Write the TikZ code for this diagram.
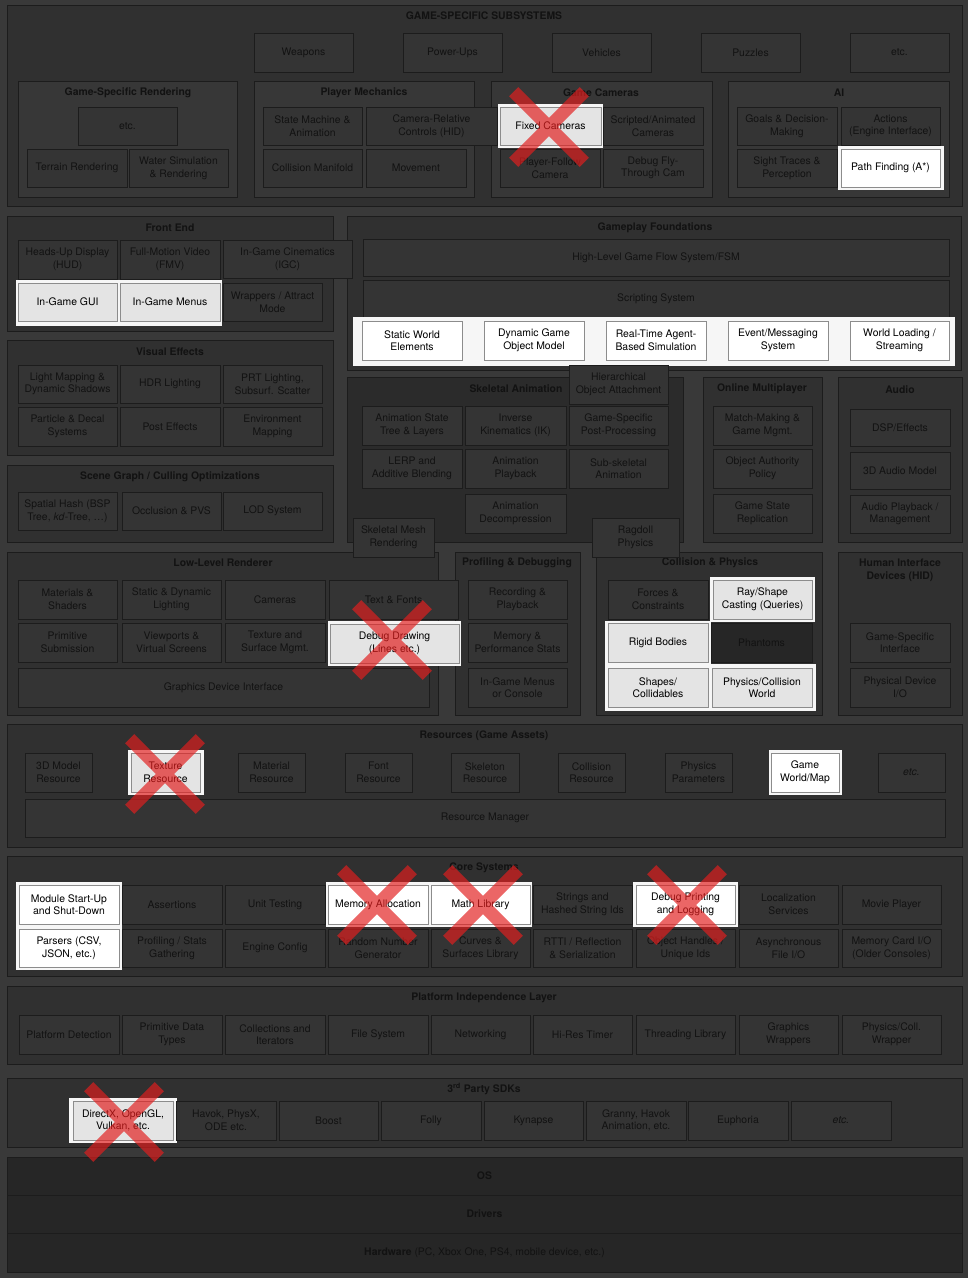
\documentclass[tikz,border=0pt]{standalone}
\usepackage{fontspec}
\setmainfont{TeX Gyre Heros}
\definecolor{pagebg}{HTML}{393939}
\definecolor{panelfill}{HTML}{303030}
\definecolor{groupfill}{HTML}{373737}
\definecolor{leaffill}{HTML}{343434}
\definecolor{skelfill}{HTML}{2B2B2B}
\definecolor{bandfill}{HTML}{262626}
\definecolor{darkfill}{HTML}{262626}
\definecolor{edge}{HTML}{1C1C1C}
\definecolor{txt}{HTML}{121212}
\definecolor{hledge}{HTML}{8C8C8C}
\definecolor{hlgrayfill}{HTML}{E4E4E4}
\definecolor{haloc}{HTML}{F6F6F6}
\definecolor{xred}{HTML}{E21E1E}

% box given by its corners (x1,y1) and (x2,y2), y pointing down
\newcommand\engbox[7][leaf]{\node[#1,minimum width={(#5-#3)*1pt},minimum height={(#6-#4)*1pt}] (#2) at ({(#3+#5)/2},{(#4+#6)/2}) {#7};}
\newcommand\grouptitle[4]{\node[ttl] (#1) at (#2,#3) {#4};}
\newcommand\glow[4]{\fill[haloc] (#1,#2) rectangle (#3,#4);}
\newcommand\strike[2]{\begin{scope}[shift={(#1,#2)},rotate=45]
  \fill[xred,fill opacity=0.68] (-50,-6.5) -- (-6.5,-6.5) -- (-6.5,-50) -- (6.5,-50) -- (6.5,-6.5) -- (50,-6.5)
    -- (50,6.5) -- (6.5,6.5) -- (6.5,50) -- (-6.5,50) -- (-6.5,6.5) -- (-50,6.5) -- cycle;
  \end{scope}}

\begin{document}
\begin{tikzpicture}[x=1pt,y=-1pt,
  every node/.style={font=\fontsize{10.4}{12.6}\selectfont, text=txt},
  leaf/.style={draw=edge, fill=leaffill, line width=0.9pt, inner sep=0pt, align=center},
  hlgray/.style={leaf, draw=hledge, fill=hlgrayfill, text=black},
  hlwhite/.style={leaf, draw=hledge, fill=white, text=black},
  darkleaf/.style={leaf, fill=darkfill},
  panel/.style={draw=edge, fill=panelfill, line width=0.9pt, inner sep=0pt},
  group/.style={panel, fill=groupfill},
  skelgroup/.style={panel, fill=skelfill},
  band/.style={draw=edge, fill=bandfill, line width=0.9pt, inner sep=0pt, font=\fontsize{10.4}{12.6}\selectfont\bfseries},
  ttl/.style={font=\fontsize{10.4}{12.6}\selectfont\bfseries, align=center, inner sep=0pt}]

\fill[pagebg] (0,0) rectangle (968,1278);
\useasboundingbox (0,0) rectangle (968,1278);

% ---------------- Game-specific subsystems ----------------
\engbox[panel]{gss}{7}{5}{962}{206}{}
\grouptitle{gsst}{484}{16}{GAME-SPECIFIC SUBSYSTEMS}
\engbox{weapons}{254}{33}{353}{72}{Weapons}
\engbox{powerups}{403}{33}{502}{72}{Power-Ups}
\engbox{vehicles}{552}{33}{651}{72}{Vehicles}
\engbox{puzzles}{701}{33}{800}{72}{Puzzles}
\engbox{gsetc}{850}{33}{949}{72}{etc.}

\engbox[group]{gsr}{18}{81}{237}{197}{}
\grouptitle{gsrt}{128}{93}{Game-Specific Rendering}
\engbox[group]{pm}{254}{81}{474}{197}{}
\grouptitle{pmt}{364}{93}{Player Mechanics}
\engbox[group]{gc}{491}{81}{712}{197}{}
\grouptitle{gct}{601}{93}{Game Cameras}
\engbox[group]{ai}{728}{81}{949}{197}{}
\grouptitle{ait}{839}{93}{AI}

\engbox{gsretc}{78}{107}{177}{145}{etc.}
\engbox{terrain}{27}{149}{127}{187}{Terrain Rendering}
\engbox{water}{129}{149}{228}{187}{Water Simulation\\\& Rendering}

\engbox{statem}{263}{107}{362}{145}{State Machine \&\\Animation}
\engbox{camrel}{366}{107}{497}{145}{Camera-Relative\\Controls (HID)}
\engbox{collman}{263}{149}{362}{187}{Collision Manifold}
\engbox{movement}{366}{149}{466}{187}{Movement}

\glow{498}{104}{603}{148}
\engbox[hlgray]{fixedcam}{500}{107}{601}{145}{Fixed Cameras}
\engbox{scripted}{603}{107}{703}{145}{Scripted/Animated\\Cameras}
\engbox{playerfollow}{500}{149}{600}{187}{Player-Follow\\Camera}
\engbox{debugfly}{603}{149}{703}{187}{Debug Fly-\\Through Cam}

\engbox{goals}{737}{107}{837}{145}{Goals \& Decision-\\Making}
\engbox{actions}{841}{107}{940}{145}{Actions\\(Engine Interface)}
\engbox{sight}{737}{149}{837}{187}{Sight Traces \&\\Perception}
\glow{838}{146}{944}{190}
\engbox[hlwhite]{pathfind}{841}{149}{940}{187}{Path Finding (A*)}

% ---------------- middle panels ----------------
\engbox[panel]{fe}{7}{216}{333}{331}{}
\grouptitle{fet}{170}{228}{Front End}
\engbox[panel]{gf}{347}{216}{961}{370}{}
\grouptitle{gft}{655}{228}{Gameplay Foundations}
\engbox[panel]{vfx}{7}{340}{333}{455}{}
\grouptitle{vfxt}{170}{352}{Visual Effects}
\engbox[panel]{sg}{7}{465}{333}{542}{}
\grouptitle{sgt}{170}{477}{Scene Graph / Culling Optimizations}
\engbox[skelgroup]{sk}{347}{377}{683}{542}{}
\grouptitle{skt}{516}{389}{Skeletal Animation}
\engbox[panel]{om}{703}{377}{822}{542}{}
\grouptitle{omt}{762}{389}{Online Multiplayer}
\engbox[panel]{au}{838}{377}{962}{542}{}
\grouptitle{aut}{900}{390}{Audio}

\engbox{hud}{18}{240}{117}{279}{Heads-Up Display\\(HUD)}
\engbox{fmv}{120}{240}{220}{279}{Full-Motion Video\\(FMV)}
\engbox{igc}{223}{240}{352}{278}{In-Game Cinematics\\(IGC)}
\glow{16}{280}{222}{326}
\engbox[hlgray]{gui}{18}{283}{117}{321}{In-Game GUI}
\engbox[hlgray]{menus}{120}{283}{220}{321}{In-Game Menus}
\engbox{wrappers}{223}{283}{322}{321}{Wrappers / Attract\\Mode}

\engbox{hlgfsm}{363}{239}{949}{276}{High-Level Game Flow System/FSM}
\engbox{scripting}{363}{280}{949}{317}{Scripting System}
\glow{353}{317}{955}{366}
\engbox[hlwhite]{staticw}{362}{321}{462}{360}{Static World\\Elements}
\engbox[hlwhite]{dyngo}{484}{321}{584}{360}{Dynamic Game\\Object Model}
\engbox[hlwhite]{rtabs}{606}{321}{706}{360}{Real-Time Agent-\\Based Simulation}
\engbox[hlwhite]{eventmsg}{728}{321}{828}{360}{Event/Messaging\\System}
\engbox[hlwhite]{worldload}{850}{321}{949}{360}{World Loading /\\Streaming}

\engbox{lightmap}{18}{365}{117}{403}{Light Mapping \&\\Dynamic Shadows}
\engbox{hdr}{120}{365}{220}{403}{HDR Lighting}
\engbox{prt}{223}{365}{322}{403}{PRT Lighting,\\Subsurf. Scatter}
\engbox{particle}{18}{407}{117}{446}{Particle \& Decal\\Systems}
\engbox{posteff}{120}{407}{220}{446}{Post Effects}
\engbox{envmap}{223}{407}{322}{446}{Environment\\Mapping}

\engbox{spatial}{18}{492}{117}{530}{Spatial Hash (BSP\\Tree, \textit{kd}-Tree, …)}
\engbox{occl}{122}{492}{221}{530}{Occlusion \& PVS}
\engbox{lod}{223}{492}{322}{530}{LOD System}

\engbox{hoa}{569}{365}{668}{404}{Hierarchical\\Object Attachment}
\engbox{animstate}{362}{406}{462}{445}{Animation State\\Tree \& Layers}
\engbox{ik}{465}{406}{566}{445}{Inverse\\Kinematics (IK)}
\engbox{gspp}{569}{406}{668}{445}{Game-Specific\\Post-Processing}
\engbox{lerp}{362}{449}{462}{488}{LERP and\\Additive Blending}
\engbox{animplay}{465}{449}{566}{488}{Animation\\Playback}
\engbox{subskel}{569}{449}{668}{488}{Sub-skeletal\\Animation}
\engbox{animdec}{465}{494}{566}{533}{Animation\\Decompression}

\engbox{match}{713}{406}{812}{445}{Match-Making \&\\Game Mgmt.}
\engbox{objauth}{713}{449}{812}{488}{Object Authority\\Policy}
\engbox{gsrep}{713}{494}{812}{533}{Game State\\Replication}

\engbox{dsp}{850}{409}{950}{446}{DSP/Effects}
\engbox{audio3d}{850}{452}{950}{489}{3D Audio Model}
\engbox{audioplay}{850}{495}{950}{533}{Audio Playback /\\Management}

% ---------------- renderer, profiling, physics, HID ----------------
\engbox[panel]{llr}{7}{552}{438}{715}{}
\grouptitle{llrt}{223}{563}{Low-Level Renderer}
\engbox[panel]{pd}{455}{552}{580}{715}{}
\grouptitle{pdt}{517}{563}{Profiling \& Debugging}
\engbox[panel]{cp}{596}{552}{822}{715}{}
\grouptitle{cpt}{710}{563}{Collision \& Physics}
\engbox[panel]{hid}{838}{552}{962}{715}{}
\grouptitle{hidt}{900}{570}{Human Interface\\Devices (HID)}

\engbox{skmesh}{353}{518}{434}{557}{Skeletal Mesh\\Rendering}
\engbox{ragdoll}{592}{518}{679}{557}{Ragdoll\\Physics}

\engbox{mats}{18}{580}{117}{619}{Materials \&\\Shaders}
\engbox{sdl}{122}{580}{221}{619}{Static \& Dynamic\\Lighting}
\engbox{cams}{225}{580}{325}{619}{Cameras}
\engbox{textfonts}{329}{580}{458}{619}{Text \& Fonts}
\engbox{prim}{18}{623}{117}{662}{Primitive\\Submission}
\engbox{viewports}{122}{623}{221}{662}{Viewports \&\\Virtual Screens}
\engbox{texsurf}{225}{623}{325}{662}{Texture and\\Surface Mgmt.}
\glow{328}{621}{461}{666}
\engbox[hlgray]{debugdraw}{330}{624}{459}{663}{Debug Drawing\\(Lines etc.)}
\engbox{gdi}{18}{668}{429}{707}{Graphics Device Interface}

\engbox{recplay}{468}{580}{567}{619}{Recording \&\\Playback}
\engbox{memperf}{468}{623}{567}{662}{Memory \&\\Performance Stats}
\engbox{menucons}{468}{668}{567}{707}{In-Game Menus\\or Console}

\engbox{forces}{608}{580}{708}{619}{Forces \&\\Constraints}
\glow{710}{577}{815}{622}
\engbox[hlgray]{rayshape}{713}{580}{812}{619}{Ray/Shape\\Casting (Queries)}
\glow{605}{621}{711}{666}
\engbox[hlgray]{rigid}{608}{623}{708}{662}{Rigid Bodies}
\engbox[darkleaf]{phantoms}{711}{623}{812}{662}{Phantoms}
\glow{605}{664}{816}{711}
\engbox[hlgray]{shapes}{608}{668}{708}{707}{Shapes/\\Collidables}
\engbox[hlgray]{pcworld}{712}{668}{812}{707}{Physics/Collision\\World}

\engbox{gsiface}{850}{623}{950}{662}{Game-Specific\\Interface}
\engbox{physdev}{850}{668}{950}{707}{Physical Device\\I/O}

% ---------------- resources ----------------
\engbox[panel]{res}{7}{724}{962}{847}{}
\grouptitle{rest}{484}{736}{Resources (Game Assets)}
\engbox{r3d}{25}{753}{92}{792}{3D Model\\Resource}
\glow{128}{750}{204}{795}
\engbox[hlgray]{rtex}{131}{753}{200}{792}{Texture\\Resource}
\engbox{rmat}{238}{753}{305}{792}{Material\\Resource}
\engbox{rfont}{345}{753}{412}{792}{Font\\Resource}
\engbox{rskel}{451}{753}{519}{792}{Skeleton\\Resource}
\engbox{rcoll}{558}{753}{625}{792}{Collision\\Resource}
\engbox{rphys}{665}{753}{732}{792}{Physics\\Parameters}
\glow{769}{750}{842}{795}
\engbox[hlwhite]{rworld}{771}{753}{839}{792}{Game\\World/Map}
\engbox{retc}{878}{753}{945}{792}{\textit{etc.}}
\engbox{resmgr}{25}{799}{945}{837}{Resource Manager}

% ---------------- core systems ----------------
\engbox[panel]{core}{7}{856}{962}{976}{}
\grouptitle{coret}{484}{868}{Core Systems}
\glow{16}{882}{122}{970}
\glow{326}{882}{430}{927}
\glow{429}{882}{532}{927}
\glow{633}{882}{738}{927}
\engbox[hlwhite]{modstart}{19}{885}{119}{924}{Module Start-Up\\and Shut-Down}
\engbox{asserts}{122}{885}{222}{924}{Assertions}
\engbox{unittest}{225}{885}{325}{924}{Unit Testing}
\engbox[hlwhite]{memalloc}{328}{885}{428}{924}{Memory Allocation}
\engbox[hlwhite]{mathlib}{431}{885}{530}{924}{Math Library}
\engbox{strings}{533}{885}{632}{924}{Strings and\\Hashed String Ids}
\engbox[hlwhite]{debugprint}{636}{885}{735}{924}{Debug Printing\\and Logging}
\engbox{locserv}{739}{885}{838}{924}{Localization\\Services}
\engbox{movie}{842}{885}{941}{924}{Movie Player}
\engbox[hlwhite]{parsers}{19}{929}{119}{967}{Parsers (CSV,\\JSON, etc.)}
\engbox{profstats}{122}{929}{222}{967}{Profiling / Stats\\Gathering}
\engbox{engconf}{225}{929}{325}{967}{Engine Config}
\engbox{rng}{328}{929}{428}{967}{Random Number\\Generator}
\engbox{curves}{431}{929}{530}{967}{Curves \&\\Surfaces Library}
\engbox{rtti}{533}{929}{632}{967}{RTTI / Reflection\\\& Serialization}
\engbox{handles}{636}{929}{735}{967}{Object Handles /\\Unique Ids}
\engbox{asyncio}{739}{929}{838}{967}{Asynchronous\\File I/O}
\engbox{memcard}{842}{929}{941}{967}{Memory Card I/O\\(Older Consoles)}

% ---------------- platform independence ----------------
\engbox[panel]{pil}{7}{986}{962}{1064}{}
\grouptitle{pilt}{484}{998}{Platform Independence Layer}
\engbox{platdet}{19}{1015}{119}{1054}{Platform Detection}
\engbox{primtypes}{122}{1015}{222}{1054}{Primitive Data\\Types}
\engbox{collections}{225}{1015}{325}{1054}{Collections and\\Iterators}
\engbox{filesys}{328}{1015}{428}{1054}{File System}
\engbox{networking}{431}{1015}{530}{1054}{Networking}
\engbox{hirestimer}{533}{1015}{632}{1054}{Hi-Res Timer}
\engbox{threading}{636}{1015}{735}{1054}{Threading Library}
\engbox{gfxwrap}{739}{1015}{838}{1054}{Graphics\\Wrappers}
\engbox{physwrap}{842}{1015}{941}{1054}{Physics/Coll.\\Wrapper}

% ---------------- third-party SDKs ----------------
\engbox[panel]{sdk}{7}{1078}{962}{1147}{}
\grouptitle{sdkt}{484}{1089}{3\textsuperscript{rd} Party SDKs}
\glow{69}{1098}{177}{1143}
\engbox[hlgray]{directx}{73}{1101}{173}{1140}{DirectX, OpenGL,\\Vulkan, etc.}
\engbox{havok}{176}{1101}{276}{1140}{Havok, PhysX,\\ODE etc.}
\engbox{boost}{279}{1101}{378}{1140}{Boost}
\engbox{folly}{381}{1101}{481}{1140}{Folly}
\engbox{kynapse}{484}{1101}{583}{1140}{Kynapse}
\engbox{granny}{586}{1101}{686}{1140}{Granny, Havok\\Animation, etc.}
\engbox{euphoria}{688}{1101}{788}{1140}{Euphoria}
\engbox{sdketc}{791}{1101}{891}{1140}{\textit{etc.}}

% ---------------- OS, drivers, hardware ----------------
\engbox[band]{os}{7}{1157}{962}{1195}{OS}
\engbox[band]{drivers}{7}{1195}{962}{1233}{Drivers}
\engbox[band]{hardware}{7}{1233}{962}{1272}{Hardware \mdseries(PC, Xbox One, PS4, mobile device, etc.)}

% ---------------- strike marks ----------------
\strike{549}{127}
\strike{392}{640}
\strike{165}{774}
\strike{377}{905}
\strike{483}{905}
\strike{687}{905}
\strike{124}{1122}

\end{tikzpicture}
\end{document}
